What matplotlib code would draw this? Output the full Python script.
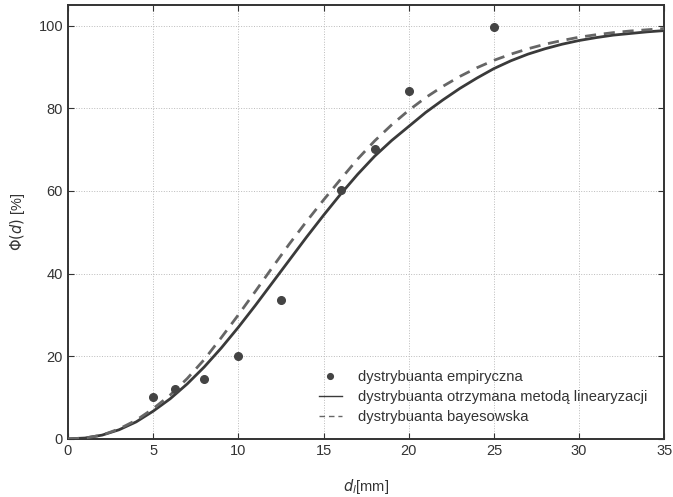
import matplotlib
matplotlib.use("Agg")
import matplotlib.pyplot as plt

plt.rcParams['font.family'] = ['Liberation Sans', 'DejaVu Sans']

# empirical distribution points
emp_d = [5.0, 6.3, 8.0, 10.0, 12.5, 16.0, 18.0, 20.0, 25.0]
emp_phi = [10.1, 12.0, 14.4, 20.1, 33.6, 60.3, 70.1, 84.2, 99.6]

# curves
d_grid = list(range(0, 36))
phi_lin = [0, 0.2, 0.9, 2.2, 4.1, 6.7, 9.7, 13.3, 17.4, 22.0,
           27.0, 32.3, 37.8, 43.3, 48.8, 54.1, 59.2, 64.0, 68.4, 72.2,
           75.6, 79.0, 82.0, 84.8, 87.3, 89.6, 91.5, 93.1, 94.4, 95.5,
           96.4, 97.1, 97.7, 98.1, 98.5, 98.8]
phi_bayes = [0, 0.2, 0.9, 2.4, 4.5, 7.3, 10.6, 14.6, 19.2, 24.5,
             30.0, 35.7, 41.5, 47.2, 52.6, 57.8, 62.8, 67.7, 72.1, 76.0,
             79.5, 82.6, 85.3, 87.7, 89.8, 91.6, 93.1, 94.4, 95.5, 96.4,
             97.2, 97.8, 98.3, 98.7, 99.0, 99.3]

fig = plt.figure(figsize=(6.73, 4.97), dpi=100)
ax = fig.add_axes([0.101, 0.117, 0.886, 0.873])

ax.plot(emp_d, emp_phi, 'o', color='#444444', markersize=5.5,
        label='dystrybuanta empiryczna', zorder=4)
ax.plot(d_grid, phi_lin, '-', color='#3a3a3a', lw=2.0,
        label='dystrybuanta otrzymana metodą linearyzacji', zorder=3)
ax.plot(d_grid, phi_bayes, '--', color='#666666', lw=2.0, dashes=(4, 2.8),
        label='dystrybuanta bayesowska', zorder=3)

ax.set_xlim(0, 35)
ax.set_ylim(0, 105)
ax.set_xticks([0, 5, 10, 15, 20, 25, 30, 35])
ax.set_yticks([0, 20, 40, 60, 80, 100])
ax.grid(True, linestyle=':', color='#bbbbbb', lw=0.7)
ax.tick_params(direction='in', top=True, right=True, labelsize=10.5,
               colors='#333333', length=4)
for s in ax.spines.values():
    s.set_color('#333333')
    s.set_linewidth(1.4)

ax.set_xlabel(r'$d_l$[mm]', fontsize=10.5, color='#333333', labelpad=14)
ax.set_ylabel(r'$\Phi(d)$ [%]', fontsize=10.5, color='#333333', labelpad=8)

leg = ax.legend(loc='lower left', bbox_to_anchor=(0.398, 0.003), frameon=False,
                fontsize=10.6, handlelength=1.6, labelspacing=0.42,
                handletextpad=1.1, markerscale=0.75)
for h in leg.legend_handles:
    h.set_linewidth(1.0)
for t in leg.get_texts():
    t.set_color('#333333')

fig.savefig('out.png', dpi=100)
plt.close(fig)
